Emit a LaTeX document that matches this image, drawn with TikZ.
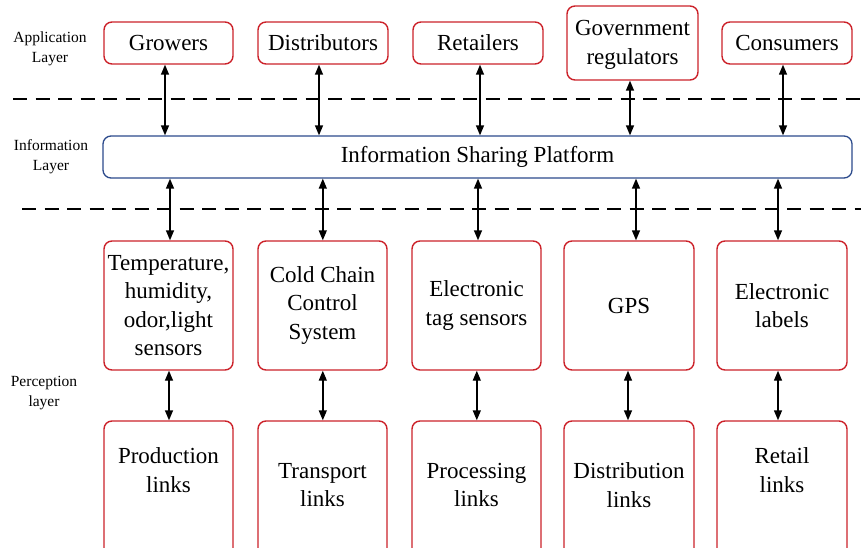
\documentclass[tikz,border=0pt]{standalone}
\usepackage{fontspec}
\setmainfont{Liberation Serif}
\usetikzlibrary{arrows.meta,calc}
\definecolor{boxred}{RGB}{204,34,42}
\definecolor{platblue}{RGB}{44,74,140}
\tikzset{
  unit/.style={draw=boxred, line width=1.4pt, rounded corners=8pt, fill=white, inner sep=0pt,
    align=center, font=\fontsize{23}{28.5}\selectfont},
  platbox/.style={draw=platblue, line width=1.3pt, rounded corners=8pt, fill=white, inner sep=0pt,
    font=\fontsize{23}{28.5}\selectfont},
  txt/.style={align=center, inner sep=0pt, font=\fontsize{23}{28.5}\selectfont},
  layerlbl/.style={align=center, inner sep=0pt, font=\fontsize{15.5}{19.5}\selectfont},
  sep/.style={line width=2.2pt, dash pattern=on 14pt off 8.5pt},
  link/.style={line width=1.4pt, {Triangle[width=8pt,length=10pt]}-{Triangle[width=8pt,length=10pt]}}
}
\begin{document}
\begin{tikzpicture}[x=1pt,y=-1pt]
\clip (0,0) rectangle (861,548);
\fill[white] (0,0) rectangle (861,548);

% layer separators
\draw[sep] (13,99) -- (861,99);
\draw[sep] (22,209) -- (861,209);

% layer names
\node[layerlbl] (lapp) at (50,49) {Application\\Layer};
\node[layerlbl] (linf) at (51,156.5) {Information\\Layer};
\node[layerlbl] (lper) at (44,393) {Perception\\layer};

% application layer
\node[unit, minimum width=129, minimum height=42] (gro) at (168.5,43) {Growers};
\node[unit, minimum width=130, minimum height=42] (dis) at (323,43) {Distributors};
\node[unit, minimum width=130, minimum height=42] (ret) at (478,43) {Retailers};
\node[unit, minimum width=131, minimum height=74] (gov) at (632.5,43) {};
\node[txt] (govt) at (632.5,45) {Government\\regulators};
\node[unit, minimum width=130, minimum height=42] (con) at (787,43) {Consumers};

% information layer
\node[platbox, minimum width=749, minimum height=42] (plat) at (477.5,157) {Information Sharing Platform};

% perception devices
\node[unit, minimum width=129, minimum height=129] (s1) at (168.5,305.5) {Temperature,\\humidity,\\odor,light\\sensors};
\node[unit, minimum width=129, minimum height=129] (s2) at (322.5,305.5) {Cold Chain\\Control\\System};
\node[unit, minimum width=129, minimum height=129] (s3) at (476.5,305.5) {Electronic\\tag sensors};
\node[unit, minimum width=130, minimum height=129] (s4) at (629,305.5) {GPS};
\node[unit, minimum width=130, minimum height=129] (s5) at (782,305.5) {Electronic\\labels};

% supply chain links
\node[unit, minimum width=129, minimum height=150] (k1) at (168.5,496) {};
\node[unit, minimum width=129, minimum height=150] (k2) at (322.5,496) {};
\node[unit, minimum width=129, minimum height=150] (k3) at (476.5,496) {};
\node[unit, minimum width=130, minimum height=150] (k4) at (629,496) {};
\node[unit, minimum width=130, minimum height=150] (k5) at (782,496) {};
\node[txt] (t1) at (168.5,470) {Production\\links};
\node[txt] (t2) at (322.5,485) {Transport\\links};
\node[txt] (t3) at (476.5,485) {Processing\\links};
\node[txt] (t4) at (629,485) {Distribution\\links};
\node[txt] (t5) at (782,470) {Retail\\links};

% application <-> platform
\draw[link] ([xshift=-3.5]gro.south) -- ([xshift=-3.5]gro.south |- plat.north);
\draw[link] ([xshift=-4]dis.south) -- ([xshift=-4]dis.south |- plat.north);
\draw[link] ([xshift=2]ret.south) -- ([xshift=2]ret.south |- plat.north);
\draw[link] ([xshift=-2.5]gov.south) -- ([xshift=-2.5]gov.south |- plat.north);
\draw[link] ([xshift=-4]con.south) -- ([xshift=-4]con.south |- plat.north);

% platform <-> perception devices
\draw[link] ([xshift=1.5]s1.north |- plat.south) -- ([xshift=1.5]s1.north);
\draw[link] ([xshift=0.3]s2.north |- plat.south) -- ([xshift=0.3]s2.north);
\draw[link] ([xshift=1.5]s3.north |- plat.south) -- ([xshift=1.5]s3.north);
\draw[link] ([xshift=7]s4.north |- plat.south) -- ([xshift=7]s4.north);
\draw[link] ([xshift=-4]s5.north |- plat.south) -- ([xshift=-4]s5.north);

% devices <-> chain links
\draw[link] ([xshift=0.5]s1.south) -- ([xshift=0.5]k1.north);
\draw[link] ([xshift=0.3]s2.south) -- ([xshift=0.3]k2.north);
\draw[link] ([xshift=0.3]s3.south) -- ([xshift=0.3]k3.north);
\draw[link] ([xshift=-1]s4.south) -- ([xshift=-1]k4.north);
\draw[link] ([xshift=-4]s5.south) -- ([xshift=-4]k5.north);
\end{tikzpicture}
\end{document}
